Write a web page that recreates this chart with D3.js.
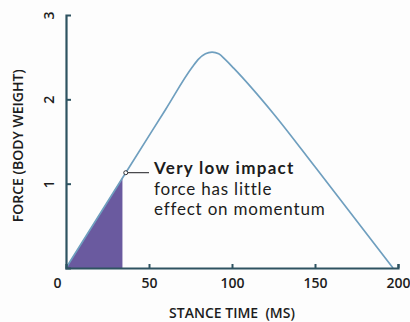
<!DOCTYPE html>
<html>
<head>
<meta charset="utf-8">
<script src="https://cdn.jsdelivr.net/npm/d3@7"></script>
<style>
  html, body { margin: 0; padding: 0; background: #fdfdfd; }
  svg { display: block; font-family: "Open Sans", "Noto Sans", sans-serif; }
</style>
</head>
<body>
<svg id="chart" width="410" height="322"></svg>
<script>
// Ground reaction force over one stance phase (ms, body weights)
const stanceMs = [0, 36, 60, 76, 80, 84, 88, 92, 96, 101, 125, 150, 197];
const forceBW  = [0, 1.13, 1.88, 2.38, 2.48, 2.54, 2.56, 2.54, 2.47, 2.37, 1.83, 1.2, 0];

// Shaded early-impact region
const impactMs = [0, 34];
const impactBW = [0, 1.07];

// Annotated point on the curve
const noteMs = 36;
const noteBW = 1.13;
const noteLines = ["Very low impact", "force has little", "effect on momentum"];

const xTicks = [0, 50, 100, 150, 200];
const yTicks = [1, 2, 3];

const axisColor = "#2e5361";
const lineColor = "#6f9fbf";
const fillColor = "#6a5a9f";
const textColor = "#1c1c20";

const svg = d3.select("#chart");

const x = d3.scaleLinear().domain([0, 200]).range([66, 398]);
const y = d3.scaleLinear().domain([0, 3]).range([268, 15]);

// shaded area
const impact = impactMs.map((d, i) => [d, impactBW[i]]);
svg.append("path")
  .datum(impact)
  .attr("fill", fillColor)
  .attr("d", d3.area().x(d => x(d[0])).y0(y(0)).y1(d => y(d[1])));

// force curve
const curve = stanceMs.map((d, i) => [d, forceBW[i]]);
svg.append("path")
  .datum(curve)
  .attr("fill", "none")
  .attr("stroke", lineColor)
  .attr("stroke-width", 1.7)
  .attr("d", d3.line().x(d => x(d[0])).y(d => y(d[1])).curve(d3.curveMonotoneX));

// x axis
const xAxis = svg.append("g")
  .attr("transform", `translate(0,${y(0)})`)
  .call(d3.axisBottom(x).tickValues(xTicks).tickSize(-4).tickPadding(10).tickFormat(d3.format("d")));
xAxis.select(".domain").attr("stroke", axisColor).attr("stroke-width", 2.2);
xAxis.selectAll(".tick line").attr("stroke", axisColor).attr("stroke-width", 2)
  .filter(d => d === 0).remove();
xAxis.selectAll(".tick text")
  .attr("fill", textColor).attr("font-size", 14).attr("font-weight", 600)
  .attr("font-family", "'Open Sans', sans-serif")
  .attr("dy", "0.71em")
  .attr("dx", d => d === 0 ? -9 : 0);

// y axis
const yAxis = svg.append("g")
  .attr("transform", `translate(${x(0)},0)`)
  .call(d3.axisLeft(y).tickValues(yTicks).tickSize(-5).tickPadding(0).tickFormat(d3.format("d")));
yAxis.select(".domain").attr("stroke", axisColor).attr("stroke-width", 2.2);
yAxis.selectAll(".tick line").attr("stroke", axisColor).attr("stroke-width", 2)
  .filter(d => d === 3).remove();
yAxis.selectAll(".tick text")
  .attr("fill", textColor).attr("font-size", 14).attr("font-weight", 600)
  .attr("font-family", "'Open Sans', sans-serif")
  .attr("x", null).attr("dy", null)
  .attr("text-anchor", "middle")
  .attr("transform", "translate(-17,0) rotate(-90)")
  .attr("dy", "0.35em");

// axis titles
svg.append("text")
  .attr("x", x(100)).attr("y", 318)
  .attr("text-anchor", "middle")
  .attr("font-size", 14).attr("font-weight", 600)
  .attr("fill", textColor)
  .attr("xml:space", "preserve")
  .style("white-space", "pre")
  .text("STANCE TIME  (MS)");

svg.append("text")
  .attr("transform", `translate(23,${y(1.45)}) rotate(-90)`)
  .attr("text-anchor", "middle")
  .attr("font-size", 14).attr("font-weight", 600)
  .attr("fill", textColor)
  .text("FORCE (BODY WEIGHT)");

// annotation
const nx = x(noteMs), ny = y(noteBW);
svg.append("line")
  .attr("x1", nx + 2).attr("x2", 149)
  .attr("y1", ny).attr("y2", ny)
  .attr("stroke", textColor).attr("stroke-width", 1);
svg.append("circle")
  .attr("cx", nx).attr("cy", ny).attr("r", 2)
  .attr("fill", "#fff").attr("stroke", textColor).attr("stroke-width", 0.9);

svg.append("g")
  .selectAll("text")
  .data(noteLines)
  .join("text")
  .attr("x", 154)
  .attr("y", (d, i) => ny + 1.5 + i * 20.5)
  .attr("fill", textColor)
  .attr("font-family", "Lato, sans-serif")
  .attr("font-size", 17)
  .attr("font-weight", (d, i) => i === 0 ? 700 : 400)
  .attr("letter-spacing", (d, i) => i === 0 ? 1.3 : 0.8)
  .text(d => d);
</script>
</body>
</html>
